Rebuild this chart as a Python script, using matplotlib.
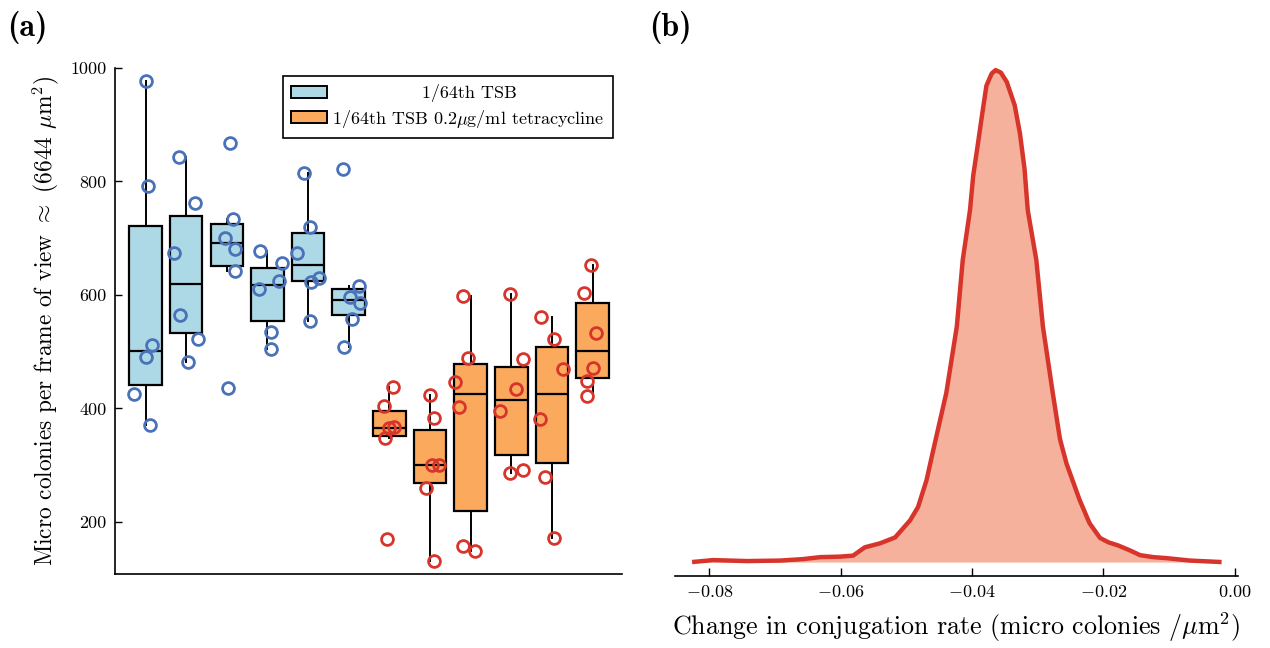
import numpy as np
import matplotlib
matplotlib.use('Agg')
import matplotlib.pyplot as plt
from matplotlib.patches import Patch

plt.rcParams['font.family'] = ['cmr10', 'DejaVu Serif']
plt.rcParams['mathtext.fontset'] = 'cm'
plt.rcParams['axes.unicode_minus'] = False

# micro colony counts per frame of view (six frames per replicate)
tsb_counts = [
    [977, 792, 511, 490, 425, 370],
    [844, 762, 674, 564, 523, 482],
    [867, 734, 701, 681, 642, 436],
    [677, 656, 624, 610, 535, 504],
    [815, 720, 674, 630, 623, 554],
    [822, 615, 596, 586, 557, 508],
]
tet_counts = [
    [437, 404, 367, 365, 347, 169],
    [423, 383, 301, 300, 259, 131],
    [598, 489, 447, 403, 157, 148],
    [601, 487, 434, 396, 291, 286],
    [561, 522, 469, 381, 279, 172],
    [652, 603, 533, 471, 448, 421],
]
# horizontal jitter of the points, as drawn
tsb_jitter = [
    [0.02, 0.07, 0.16, 0.02, -0.29, 0.12],
    [-0.18, 0.21, -0.29, -0.16, 0.29, 0.05],
    [0.07, 0.16, -0.04, 0.20, 0.20, 0.04],
    [-0.18, 0.35, 0.29, -0.22, 0.09, 0.09],
    [-0.10, 0.05, -0.28, 0.28, 0.08, 0.05],
    [-0.13, 0.25, 0.02, 0.28, 0.09, -0.11],
]
tet_jitter = [
    [0.08, -0.14, 0.11, -0.02, -0.10, -0.06],
    [0.01, 0.11, 0.05, 0.23, -0.10, 0.11],
    [-0.18, -0.07, -0.38, -0.28, -0.18, 0.11],
    [-0.04, 0.29, 0.12, -0.28, 0.29, -0.02],
    [-0.26, 0.06, 0.27, -0.29, -0.17, 0.06],
    [-0.03, -0.20, 0.09, 0.01, -0.14, -0.14],
]
labels = ['1/64th TSB', r'1/64th TSB 0.2$\mu$g/ml tetracycline']

# distribution of the change in conjugation rate
rate = [-0.0826, -0.0794, -0.0743, -0.0692, -0.0657, -0.0631, -0.0601, -0.0581,
        -0.0563, -0.0540, -0.0517, -0.0494, -0.0482, -0.0469, -0.0461, -0.0439,
        -0.0423, -0.0414, -0.0403, -0.0398, -0.0392, -0.0385, -0.0378, -0.0370,
        -0.0364, -0.0356, -0.0347, -0.0335, -0.0327, -0.0320, -0.0315, -0.0302,
        -0.0292, -0.0277, -0.0266, -0.0256, -0.0236, -0.0221, -0.0205, -0.0192,
        -0.0178, -0.0160, -0.0144, -0.0124, -0.0104, -0.0068, -0.0020]
density = [0.000, 0.004, 0.002, 0.003, 0.006, 0.010, 0.011, 0.013,
           0.030, 0.038, 0.050, 0.085, 0.112, 0.167, 0.215, 0.344,
           0.479, 0.614, 0.715, 0.786, 0.840, 0.905, 0.968, 0.993,
           1.000, 0.995, 0.976, 0.929, 0.872, 0.800, 0.715, 0.614,
           0.479, 0.344, 0.250, 0.200, 0.126, 0.079, 0.049, 0.040,
           0.034, 0.024, 0.014, 0.010, 0.008, 0.003, 0.000]

blue_fill = '#add8e6'
orange_fill = '#fba95c'
blue_edge = '#4a72b8'
red_edge = '#d7352b'

fig = plt.figure(figsize=(12.7, 6.48), dpi=100)
ax1 = fig.add_axes([0.0906, 0.1142, 0.399, 0.7808])
ax2 = fig.add_axes([0.5315, 0.111, 0.4433, 0.796])

# (a) box plots with overlaid points
groups = tsb_counts + tet_counts
pos = np.arange(len(groups))
fills = [blue_fill] * len(tsb_counts) + [orange_fill] * len(tet_counts)
edges = [blue_edge] * len(tsb_counts) + [red_edge] * len(tet_counts)
jitters = tsb_jitter + tet_jitter

bp = ax1.boxplot(groups, positions=pos, widths=0.8, patch_artist=True,
                 showfliers=False, showcaps=False, whis=1.5,
                 boxprops=dict(edgecolor='black', linewidth=1.6),
                 whiskerprops=dict(color='black', linewidth=1.4),
                 medianprops=dict(color='black', linewidth=1.6))
for box, c in zip(bp['boxes'], fills):
    box.set_facecolor(c)

for i, (vals, jit) in enumerate(zip(groups, jitters)):
    ax1.plot(i + np.array(jit), vals, 'o', ms=8.5, mfc='none', mec=edges[i],
             mew=2.0, zorder=4)

ax1.set_xlim(-0.75, 11.72)
ax1.set_ylim(108, 1000)
ax1.set_xticks([])
ax1.set_yticks([200, 400, 600, 800, 1000])
ax1.tick_params(axis='y', direction='in', length=5, width=1, labelsize=13, pad=6)
for s in ['top', 'right']:
    ax1.spines[s].set_visible(False)
for s in ['left', 'bottom']:
    ax1.spines[s].set_linewidth(1.2)
ax1.set_ylabel(r'Micro colonies per frame of view $\approx$ (6644 $\mu$m$^2$)',
               fontsize=16.8, labelpad=7)

handles = [Patch(facecolor=blue_fill, edgecolor='black', linewidth=1.4),
           Patch(facecolor=orange_fill, edgecolor='black', linewidth=1.4)]
leg = ax1.legend(handles, [' ' * 15 + labels[0], labels[1]],
                 loc='upper right', bbox_to_anchor=(0.982, 0.984),
                 borderaxespad=0, fancybox=False, edgecolor='black',
                 framealpha=1, fontsize=13, handlelength=2.0,
                 handleheight=0.65, handletextpad=0.3, labelspacing=0.3,
                 borderpad=0.45)
leg.get_frame().set_linewidth(1.2)

# (b) distribution of the change in conjugation rate
ax2.fill_between(rate, density, 0, color='#f6b19d', linewidth=0)
ax2.plot(rate, density, color=red_edge, linewidth=3.2, solid_capstyle='butt')
ax2.set_xlim(-0.0852, 0.0005)
ax2.set_ylim(-0.0285, 1.02)
ticks = [-0.08, -0.06, -0.04, -0.02, 0.0]
ax2.set_xticks(ticks)
ax2.set_xticklabels([r'$%s$' % ('%.2f' % t if t < 0 else '0.00') for t in ticks])
ax2.tick_params(axis='x', direction='in', length=6, width=1, labelsize=13, pad=6)
ax2.set_yticks([])
for s in ['top', 'right', 'left']:
    ax2.spines[s].set_visible(False)
ax2.spines['bottom'].set_linewidth(1.2)
ax2.set_xlabel(r'Change in conjugation rate (micro colonies /$\mu$m$^2$)',
               fontsize=18.7, labelpad=7)

fig.text(0.006, 0.945, '(a)', family='cmb10', fontsize=23)
fig.text(0.511, 0.945, '(b)', family='cmb10', fontsize=23)

fig.savefig('out.png', dpi=100)
